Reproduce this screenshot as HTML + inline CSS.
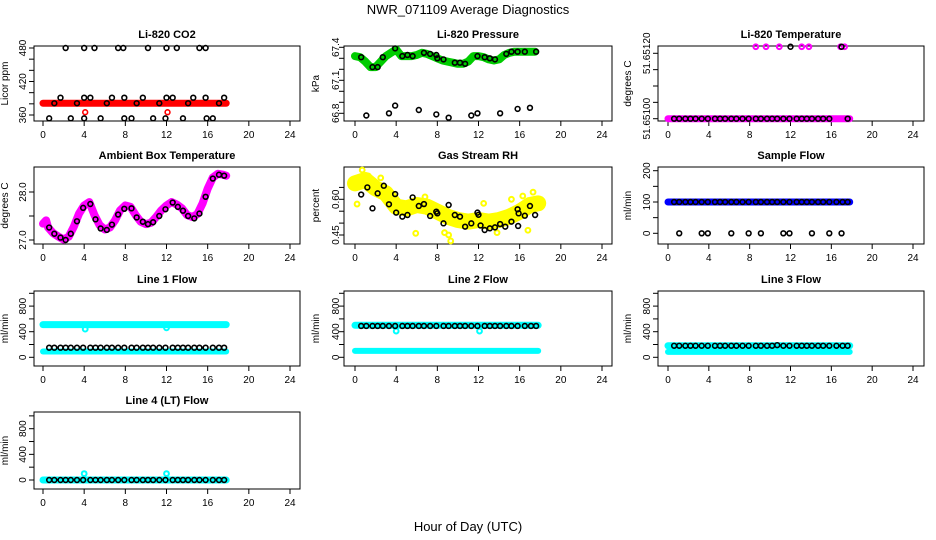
<!DOCTYPE html>
<html><head><meta charset="utf-8">
<style>
html,body{margin:0;padding:0;background:#fff;}
svg{display:block;font-family:"Liberation Sans",sans-serif;}
.tk{font-size:10px;fill:#000;}
.tt{font-size:11px;font-weight:bold;fill:#000;}
</style></head>
<body>
<svg id="chart" width="936" height="540" xmlns="http://www.w3.org/2000/svg">
<text x="468" y="14" text-anchor="middle" font-size="13">NWR_071109  Average Diagnostics</text>
<text x="468" y="531" text-anchor="middle" font-size="13">Hour of Day (UTC)</text>
</svg>
<script>
// ---- data ----
const xTicks = [0,4,8,12,16,20,24];
const blackX = [0.6,1.1,1.7,2.2,2.7,3.3,3.9,4.6,5.1,5.6,6.2,6.7,7.3,7.9,8.6,9.1,9.7,10.2,10.7,11.3,11.9,12.6,13.1,13.6,14.1,14.7,15.2,15.8,16.5,17.1,17.6];
const bandEndX = [0,17.8];

const co2BandY = [381,381];
const co2BlackX = [2.2,4,5,7.3,7.8,10.2,12,13,15.2,15.8,1.7,4,4.6,6.7,7.9,9.7,12,12.6,14.6,15.8,17.6,1.1,3.3,6.2,9.1,11.3,14.1,17.1,0.6,2.7,4,5.6,7.9,8.6,10.7,11.9,13.6,15.9,16.5];
const co2BlackY = [480,480,480,480,480,480,480,480,480,480,391,391,391,391,391,391,391,391,391,391,391,381,381,381,381,381,381,381,354,354,354,354,354,354,354,354,354,354,354];
const co2OutX = [4.1,12.1];
const co2OutY = [365,365];

const presX = [0,0.5,1,1.5,2,2.5,3,3.5,4,4.5,5,5.5,6,6.5,7,7.5,8,8.5,9,9.5,10,10.5,11,11.5,12,12.5,13,13.5,14,14.5,15,15.5,16,16.5,17,17.5];
const presY = [67.32,67.31,67.27,67.22,67.22,67.27,67.32,67.35,67.38,67.32,67.32,67.32,67.33,67.35,67.34,67.32,67.30,67.28,67.27,67.26,67.25,67.25,67.27,67.32,67.32,67.31,67.29,67.28,67.29,67.33,67.35,67.36,67.36,67.36,67.36,67.36];
const presBlackX = [0.6,1.7,2.2,2.7,3.9,4.6,5.1,5.6,6.7,7.3,7.9,8.0,8.6,9.7,10.2,10.7,11.9,12.6,13.1,13.6,14.7,15.2,15.8,16.5,17.6,1.1,3.3,3.9,6.2,7.9,9.1,11.3,11.9,14.1,15.8,17.0];
const presBlackY = [67.31,67.22,67.22,67.31,67.39,67.32,67.33,67.32,67.35,67.34,67.33,67.30,67.29,67.26,67.26,67.25,67.32,67.31,67.30,67.29,67.34,67.36,67.36,67.36,67.36,66.78,66.80,66.87,66.83,66.79,66.76,66.78,66.80,66.80,66.84,66.85];

const tempBandY = [51.651,51.651];
const tempTopX = [8.6,9.6,10.9,13.1,13.8,16.9,17.3];
const tempTopY = [51.65122,51.65122,51.65122,51.65122,51.65122,51.65122,51.65122];
const tempBlackX = [0.6,1.1,1.7,2.2,2.7,3.3,3.9,4.6,5.1,5.6,6.2,6.7,7.3,7.9,8.6,9.1,9.7,10.2,10.7,11.3,11.9,12.6,13.1,13.6,14.1,14.7,15.2,15.8,17.6,12,17.0];
const tempBlackY = [51.651,51.651,51.651,51.651,51.651,51.651,51.651,51.651,51.651,51.651,51.651,51.651,51.651,51.651,51.651,51.651,51.651,51.651,51.651,51.651,51.651,51.651,51.651,51.651,51.651,51.651,51.651,51.651,51.651,51.65122,51.65122];

const ambX = [0,0.3,0.5,1,1.5,2,2.5,3,3.5,4,4.5,5,5.5,6,6.5,7,7.5,8,8.5,9,9.5,10,10.5,11,11.5,12,12.5,13,13.5,14,14.5,15,15.5,16,16.5,17,17.5,17.8];
const ambY = [27.34,27.41,27.26,27.14,27.07,27.01,27.07,27.28,27.55,27.72,27.79,27.52,27.31,27.22,27.26,27.41,27.62,27.72,27.69,27.52,27.38,27.33,27.36,27.48,27.62,27.72,27.79,27.74,27.66,27.52,27.48,27.54,27.76,28.07,28.30,28.38,28.36,28.34];
const ambBlackY = [27.26,27.13,27.05,27.0,27.13,27.39,27.67,27.75,27.43,27.24,27.21,27.32,27.53,27.65,27.66,27.47,27.38,27.33,27.37,27.5,27.64,27.78,27.69,27.61,27.50,27.45,27.55,27.90,28.28,28.36,28.34];

const rhX = [0,1,2,3,4,5,6,7,8,9,10,11,12,13,14,15,16,17,17.8];
const rhY = [0.667,0.681,0.646,0.625,0.569,0.562,0.576,0.569,0.548,0.527,0.513,0.506,0.513,0.506,0.513,0.527,0.548,0.576,0.583];
const rhOutX = [0.7,1.3,5.9,8.7,9.1,9.3,12.5,16.3,17.3,16.8,0.2,2.5,6.8,13.8,15.2];
const rhOutY = [0.723,0.698,0.457,0.46,0.45,0.425,0.583,0.614,0.63,0.47,0.58,0.69,0.61,0.46,0.6];
const rhBlackX = [0.6,1.2,1.7,2.2,2.8,3.3,3.9,4.0,4.6,5.1,5.6,6.2,6.7,7.3,7.9,8.0,8.6,9.1,9.7,10.2,10.7,11.3,11.9,12.0,12.2,12.6,13.1,13.6,14.1,14.6,15.2,15.8,15.9,15.85,16.5,17.0,17.5];
const rhBlackY = [0.62,0.65,0.562,0.625,0.657,0.579,0.622,0.544,0.527,0.534,0.608,0.572,0.58,0.53,0.548,0.541,0.499,0.576,0.534,0.527,0.485,0.499,0.544,0.535,0.49,0.471,0.478,0.482,0.496,0.485,0.506,0.558,0.541,0.488,0.531,0.572,0.534];

const sampBandY = [100,100];
const sampBlackY = [100,100,100,100,100,100,100,100,100,100,100,100,100,100,100,100,100,100,100,100,100,100,100,100,100,100,100,100,100,100,100];
const sampZeroX = [1.1,3.3,3.9,6.2,7.9,9.1,11.3,11.9,14.1,15.8,17.0];
const sampZeroY = [0,0,0,0,0,0,0,0,0,0,0];

const l1BandA = [510,510];
const l1BandB = [90,90];
const l1BlackY = [150,150,150,150,150,150,150,150,150,150,150,150,150,150,150,150,150,150,150,150,150,150,150,150,150,150,150,150,150,150,150];
const l1OutX = [4.1,12];
const l1OutY = [440,460];

const l2BandA = [500,500];
const l2BandB = [100,100];
const l2BlackY = [490,490,490,490,490,490,490,490,490,490,490,490,490,490,490,490,490,490,490,490,490,490,490,490,490,490,490,490,490,490,490];
const l2OutX = [4,12.1];
const l2OutY = [410,410];

const l3BandA = [180,180];
const l3BandB = [85,85];
const l3BlackY = [180,180,180,180,180,180,180,180,180,180,180,180,180,180,180,180,180,180,190,180,180,180,180,180,180,180,180,180,180,180,180];

const l4BandA = [0,0];
const l4BlackY = [0,0,0,0,0,0,0,0,0,0,0,0,0,0,0,0,0,0,0,0,0,0,0,0,0,0,0,0,0,0,0];
const l4OutX = [4,12];
const l4OutY = [100,100];

// ---- rendering ----
const svg = document.getElementById('chart');
const NS = 'http://www.w3.org/2000/svg';
const cols = [{bl:34,br:300,x0:43,x24:290,lab:26,ttl:8},{bl:344,br:612,x0:355,x24:602,lab:339,ttl:319},{bl:658,br:924,x0:668,x24:913,lab:650,ttl:631}];
const rows = [{bt:46,bb:121},{bt:167,bb:244},{bt:291,bb:366},{bt:412,bb:489}];

function mk(tag, attrs, parent){
  const e = document.createElementNS(NS, tag);
  for (const k in attrs) e.setAttribute(k, attrs[k]);
  (parent||svg).appendChild(e);
  return e;
}

function panel(name, title, ci, ri, yTitle, v1, p1, v2, p2, ticks, labels){
  const c = cols[ci], r = rows[ri];
  const g = mk('g', {});
  
  
  const xs = v => c.x0 + (c.x24 - c.x0) * v / 24;
  const ys = v => p1 + (p2 - p1) * (v - v1) / (v2 - v1);
  const box = mk('rect', {x:c.bl, y:r.bt, width:c.br-c.bl, height:r.bb-r.bt, fill:'none', stroke:'#000', 'stroke-width':1}, g);
  
  
  const t = mk('text', {x:(c.bl+c.br)/2, y:r.bt-8, 'text-anchor':'middle', class:'tt'}, g);
  t.textContent = title;
  
  
  // x axis
  const xa = mk('g', {}, g);
  
  
  mk('line', {x1:xs(xTicks[0]), x2:xs(xTicks[xTicks.length-1]), y1:r.bb, y2:r.bb, stroke:'#000'}, xa);
  xTicks.forEach(v => {
    mk('line', {x1:xs(v), x2:xs(v), y1:r.bb, y2:r.bb+5, stroke:'#000'}, xa);
    const tl = mk('text', {x:xs(v), y:r.bb+17, 'text-anchor':'middle', class:'tk'}, xa);
    tl.textContent = v;
  });
  // y axis
  const ya = mk('g', {}, g);
  
  
  mk('line', {x1:c.bl, x2:c.bl, y1:ys(ticks[0]), y2:ys(ticks[ticks.length-1]), stroke:'#000'}, ya);
  ticks.forEach(v => mk('line', {x1:c.bl-5, x2:c.bl, y1:ys(v), y2:ys(v), stroke:'#000'}, ya));
  labels.forEach(l => {
    const y = ys(parseFloat(l));
    const tl = mk('text', {x:c.lab, y:y, 'text-anchor':'middle', class:'tk', transform:`rotate(-90 ${c.lab} ${y})`}, ya);
    tl.textContent = l;
  });
  const my = (r.bt + r.bb) / 2;
  const yt = mk('text', {x:c.ttl, y:my, 'text-anchor':'middle', class:'tk', transform:`rotate(-90 ${c.ttl} ${my})`}, g);
  yt.textContent = yTitle;
  
  
  return {g, xs, ys};
}

function band(p, X, Y, color, w, label){
  const pts = X.map((x,i) => p.xs(x) + ',' + p.ys(Y[i])).join(' ');
  const pl = mk('polyline', {points:pts, fill:'none', stroke:color, 'stroke-width':w, 'stroke-linecap':'round', 'stroke-linejoin':'round'}, p.g);
  
  
}
function pts(p, X, Y, color, label, sw){
  const gg = mk('g', {}, p.g);
  
  
  X.forEach((x,i) => {
    const c = mk('circle', {cx:p.xs(x), cy:p.ys(Y[i]), r:2.4, fill:'none', stroke:color, 'stroke-width':sw||1.6}, gg);
    
    
  });
}

// CO2
let p = panel('co2','Li-820 CO2',0,0,'Licor ppm',480,48,360,115,[360,380,400,420,440,460,480],['360','420','480']);
band(p, bandEndX, co2BandY, '#ff0000', 7, 'co2-band');
pts(p, co2OutX, co2OutY, '#ff0000', 'co2-red-outliers');
pts(p, co2BlackX, co2BlackY, '#000', 'co2-black-points');

// Pressure
p = panel('pressure','Li-820 Pressure',1,0,'kPa',67.4,47.3,66.8,113.3,[66.8,66.9,67.0,67.1,67.2,67.3,67.4],['66.8','67.1','67.4']);
band(p, presX, presY, '#00cc00', 8, 'pressure-band');
pts(p, presBlackX, presBlackY, '#000', 'pressure-black-points');

// Li-820 Temperature
p = panel('li820-temp','Li-820 Temperature',2,0,'degrees C',51.6512,53.3,51.651,118.7,[51.651,51.65105,51.6511,51.65115,51.6512],['51.65100','51.65120']);
band(p, bandEndX, tempBandY, '#ff00ff', 7, 'li820-temp-band');
pts(p, tempTopX, tempTopY, '#ff00ff', 'li820-temp-magenta-points', 2);
pts(p, tempBlackX, tempBlackY, '#000', 'li820-temp-black-points');

// Ambient box temp
p = panel('ambient','Ambient Box Temperature',0,1,'degrees C',28.0,192,27.0,240,[27.0,27.5,28.0],['27.0','28.0']);
band(p, ambX, ambY, '#ff00ff', 8, 'ambient-band');
pts(p, blackX, ambBlackY, '#000', 'ambient-black-points');

// Gas stream RH
p = panel('rh','Gas Stream RH',1,1,'percent',0.60,199.3,0.45,235,[0.45,0.50,0.55,0.60,0.65],['0.45','0.60']);
band(p, rhX, rhY, '#ffff00', 16, 'rh-band');
pts(p, rhOutX, rhOutY, '#ffff00', 'rh-yellow-points', 2);
pts(p, rhBlackX, rhBlackY, '#000', 'rh-black-points');

// Sample flow
p = panel('sample-flow','Sample Flow',2,1,'ml/min',200,170.7,0,233.3,[0,50,100,150,200],['0','100','200']);
band(p, bandEndX, sampBandY, '#0000ff', 7, 'sample-flow-band');
pts(p, blackX, sampBlackY, '#000', 'sample-flow-black-points');
pts(p, sampZeroX, sampZeroY, '#000', 'sample-flow-zero-points');

const flowTicks = [0,200,400,600,800,1000];
const flowLabels = ['0','400','800'];
// Line 1
p = panel('line1','Line 1 Flow',0,2,'ml/min',0,357.3,400,331.7,flowTicks,flowLabels);
band(p, bandEndX, l1BandA, '#00ffff', 7, 'line1-band-high');
band(p, bandEndX, l1BandB, '#00ffff', 6, 'line1-band-low');
pts(p, l1OutX, l1OutY, '#00ffff', 'line1-outliers', 2);
pts(p, blackX, l1BlackY, '#000', 'line1-black-points');
// Line 2
p = panel('line2','Line 2 Flow',1,2,'ml/min',0,357.3,400,331.7,flowTicks,flowLabels);
band(p, bandEndX, l2BandA, '#00ffff', 7, 'line2-band-high');
band(p, bandEndX, l2BandB, '#00ffff', 6, 'line2-band-low');
pts(p, l2OutX, l2OutY, '#00ffff', 'line2-outliers', 2);
pts(p, blackX, l2BlackY, '#000', 'line2-black-points');
// Line 3
p = panel('line3','Line 3 Flow',2,2,'ml/min',0,357.3,400,331.7,flowTicks,flowLabels);
band(p, bandEndX, l3BandA, '#00ffff', 7, 'line3-band-high');
band(p, bandEndX, l3BandB, '#00ffff', 6, 'line3-band-low');
pts(p, blackX, l3BlackY, '#000', 'line3-black-points');
// Line 4
p = panel('line4','Line 4 (LT) Flow',0,3,'ml/min',0,480,800,428.7,flowTicks,flowLabels);
band(p, bandEndX, l4BandA, '#00ffff', 7, 'line4-band');
pts(p, l4OutX, l4OutY, '#00ffff', 'line4-outliers', 2);
pts(p, blackX, l4BlackY, '#000', 'line4-black-points');
</script>
</body></html>
